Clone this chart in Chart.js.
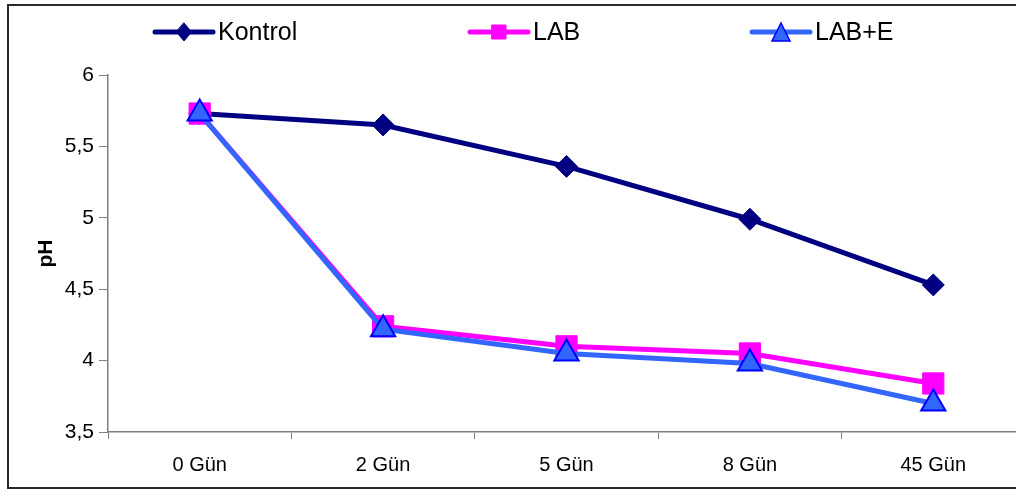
<!DOCTYPE html>
<html>
<head>
<meta charset="utf-8">
<script src="https://cdn.jsdelivr.net/npm/chart.js@4"></script>
<style>
  html, body { margin: 0; padding: 0; background: #fff; overflow: hidden; }
  #wrap { width: 1016px; height: 491px; }
</style>
</head>
<body>
<div id="wrap"><canvas id="chart" width="1016" height="491"></canvas></div>
<script>
// data
const days = ['0 Gün', '2 Gün', '5 Gün', '8 Gün', '45 Gün'];
const kontrol = [5.73, 5.65, 5.36, 4.99, 4.53];
const lab = [5.73, 4.24, 4.10, 4.05, 3.84];
const labE = [5.73, 4.22, 4.05, 3.98, 3.70];
const yTicks = [3.5, 4, 4.5, 5, 5.5, 6];

const FONT = "'Liberation Sans', Arial, sans-serif";

// legend entries, drawn like the Excel legend (line + marker + text)
const legendPos = [155, 470, 752];
// the x axis runs past the right edge of the picture
const xAxisRight = 1025;

function marker(ctx, style, x, y, r, fill, stroke, lw) {
    ctx.save();
    ctx.fillStyle = fill;
    ctx.strokeStyle = stroke;
    ctx.lineWidth = lw;
    ctx.beginPath();
    if (style === 'rectRot') {
        ctx.moveTo(x, y - r);
        ctx.lineTo(x + r * 0.85, y);
        ctx.lineTo(x, y + r);
        ctx.lineTo(x - r * 0.85, y);
    } else if (style === 'rect') {
        ctx.rect(x - r, y - r, 2 * r, 2 * r);
    } else {
        ctx.moveTo(x, y - r);
        ctx.lineTo(x + r, y + r);
        ctx.lineTo(x - r, y + r);
    }
    ctx.closePath();
    ctx.fill();
    ctx.stroke();
    ctx.restore();
}

const frameAndLegend = {
    id: 'frameAndLegend',
    afterLayout(chart) {
        const x = chart.scales.x;
        x.right = xAxisRight;
        x.width = x.right - x.left;
        x.configure();
        chart.chartArea.right = xAxisRight;
        chart.chartArea.width = xAxisRight - chart.chartArea.left;
    },
    afterDraw(chart) {
        const ctx = chart.ctx;
        ctx.save();
        // outer frame, right side is cut off in the original
        ctx.strokeStyle = '#2a2a2a';
        ctx.lineWidth = 2;
        ctx.strokeRect(8, 5, 1040, 483);

        const y = 32;
        chart.data.datasets.forEach((ds, i) => {
            const x0 = legendPos[i];
            ctx.strokeStyle = ds.borderColor;
            ctx.lineWidth = 5;
            ctx.lineCap = 'round';
            ctx.beginPath();
            ctx.moveTo(x0, y);
            ctx.lineTo(x0 + 58, y);
            ctx.stroke();
            const r = ds.pointStyle === 'rect' ? 7 : 9;
            marker(ctx, ds.pointStyle, x0 + 29, y, r, ds.pointBackgroundColor, ds.pointBorderColor, ds.pointStyle === 'triangle' ? 1.5 : 1);
            ctx.fillStyle = '#000';
            ctx.font = '25px ' + FONT;
            ctx.textBaseline = 'middle';
            ctx.fillText(ds.label, x0 + 63, y + 1);
        });
        ctx.restore();
    }
};

new Chart(document.getElementById('chart'), {
    type: 'line',
    data: {
        labels: days,
        datasets: [
            {
                label: 'Kontrol', data: kontrol, order: 2,
                borderColor: '#000080', borderWidth: 5,
                pointStyle: 'rectRot', pointRadius: 11,
                pointBackgroundColor: '#000080', pointBorderColor: '#000080', pointBorderWidth: 1
            },
            {
                label: 'LAB', data: lab, order: 1,
                borderColor: '#FF00FF', borderWidth: 5,
                pointStyle: 'rect', pointRadius: 15,
                pointBackgroundColor: '#FF00FF', pointBorderColor: '#FF00FF', pointBorderWidth: 1
            },
            {
                label: 'LAB+E', data: labE, order: 0,
                borderColor: '#3366FF', borderWidth: 5,
                pointStyle: 'triangle', pointRadius: 14,
                pointBackgroundColor: '#3366FF', pointBorderColor: '#0000FF', pointBorderWidth: 2
            }
        ]
    },
    options: {
        responsive: false,
        animation: false,
        devicePixelRatio: 1,
        layout: { padding: { top: 75, right: 0, left: 0, bottom: 0 } },
        plugins: {
            legend: { display: false },
            tooltip: { enabled: false }
        },
        scales: {
            x: {
                offset: true,
                grid: { offset: true, drawOnChartArea: false, color: '#808080', tickLength: 7 },
                border: { color: '#808080', width: 1.5 },
                ticks: { color: '#000', font: { family: FONT, size: 20 }, padding: 14, maxRotation: 0 },
                afterFit(scale) { scale.height = 491 - 432; }
            },
            y: {
                min: 3.5, max: 6,
                afterBuildTicks(scale) { scale.ticks = yTicks.map(v => ({ value: v })); },
                grid: { drawOnChartArea: false, color: '#808080', tickLength: 9 },
                border: { color: '#808080', width: 1.5 },
                ticks: {
                    color: '#000', font: { family: FONT, size: 21 }, padding: 5,
                    callback: v => String(v).replace('.', ',')
                },
                title: {
                    display: true, text: 'pH', color: '#000',
                    font: { family: FONT, size: 21, weight: 'bold' },
                    padding: { top: 34, bottom: 0 }
                },
                afterFit(scale) { scale.width = 108; }
            }
        }
    },
    plugins: [frameAndLegend]
});
</script>
</body>
</html>
